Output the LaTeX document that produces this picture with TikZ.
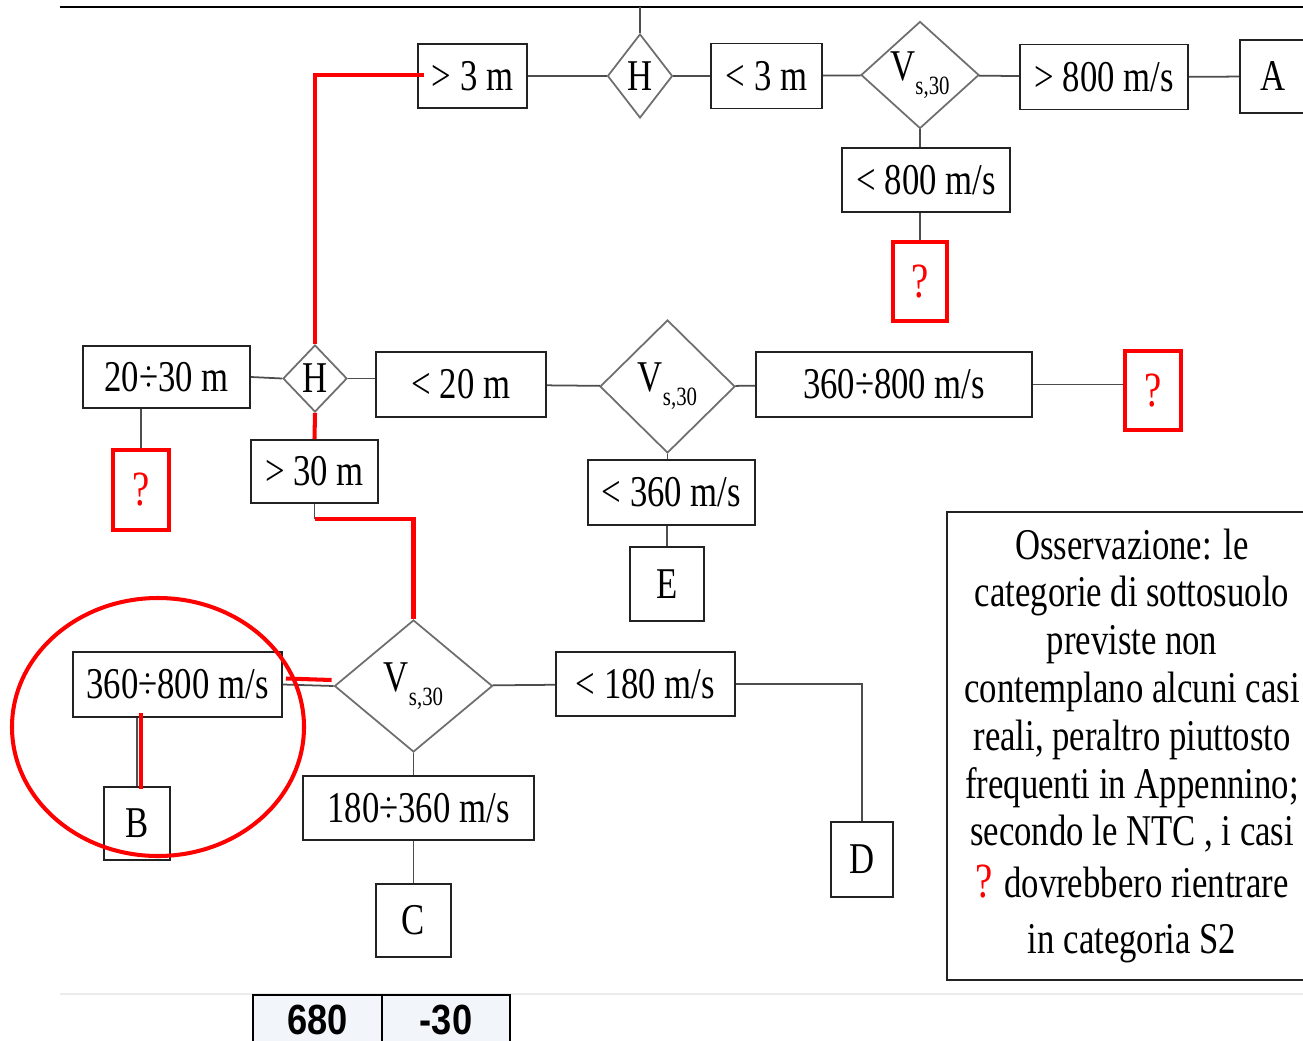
\documentclass[tikz,border=0pt]{standalone}
\usepackage{fontspec}
\setmainfont{Liberation Serif}[FakeStretch=0.79]
\newfontfamily\tabfont{Liberation Sans}[FakeStretch=0.86]
\usepackage{tikz}
\usetikzlibrary{shapes.geometric,calc}
\usepackage{xcolor}
\definecolor{ink}{HTML}{222222}
\definecolor{wire}{HTML}{4D4D4D}
\definecolor{rhomb}{HTML}{6E6E6E}
\definecolor{alert}{HTML}{FF0000}
\definecolor{cell}{HTML}{F2F6FA}
\definecolor{rule}{HTML}{EBEBEB}
\tikzset{
  bnode/.style={rectangle,draw=ink,fill=white,line width=0.55pt,inner sep=0pt,
    font=\fontsize{12.5}{15}\selectfont},
  dnode/.style={diamond,draw=rhomb,fill=white,line width=0.5pt,inner sep=0pt,
    font=\fontsize{12.5}{15}\selectfont},
  qnode/.style={rectangle,draw=alert,fill=white,text=alert,line width=1.2pt,inner sep=0pt,
    minimum width=0.54cm,minimum height=0.79cm,font=\fontsize{14}{16}\selectfont},
  tnode/.style={rectangle,draw=black,fill=cell,line width=0.7pt,inner sep=0pt,
    minimum width=1.28cm,minimum height=0.5cm,font=\tabfont\bfseries\fontsize{12}{14}\selectfont},
  conn/.style={draw=wire,line width=0.5pt},
  redline/.style={draw=alert,line width=1.15pt},
}
\newcommand{\vsthirty}{V\raisebox{-0.7ex}{\fontsize{7.5}{8}\selectfont s,30}}

\begin{document}
\begin{tikzpicture}
  \useasboundingbox (0,0) rectangle (13.03,-10.40);
  \coordinate (tl) at (0.60,-0.07); \coordinate (tr) at (13.03,-0.07);
  \draw[draw=rule,line width=0.4pt] (0.60,-9.94) -- (13.03,-9.94);
  % top row
  \node[dnode,minimum width=0.65cm,minimum height=0.84cm] (h1) at (6.40,-0.76) {H};
  \node[bnode,minimum width=1.09cm,minimum height=0.64cm] (gt3) at (4.725,-0.76) {> 3 m};
  \node[bnode,minimum width=1.11cm,minimum height=0.65cm] (lt3) at (7.665,-0.76) {< 3 m};
  \node[dnode,minimum width=1.18cm,minimum height=1.07cm] (v1) at (9.20,-0.75) {\vsthirty};
  \node[bnode,minimum width=1.68cm,minimum height=0.65cm] (gt800) at (11.04,-0.77) {> 800 m/s};
  \node[bnode,minimum width=0.66cm,minimum height=0.73cm] (na) at (12.73,-0.765) {A};
  \node[bnode,minimum width=1.68cm,minimum height=0.64cm] (lt800) at (9.26,-1.80) {< 800 m/s};
  \node[qnode] (q1) at (9.20,-2.815) {?};
  % middle row
  \node[bnode,minimum width=1.67cm,minimum height=0.62cm] (r2030) at (1.665,-3.77) {20÷30 m};
  \node[dnode,minimum width=0.64cm,minimum height=0.67cm] (h2) at (3.15,-3.785) {H};
  \node[bnode,minimum width=1.70cm,minimum height=0.65cm] (lt20) at (4.61,-3.845) {< 20 m};
  \node[dnode,minimum width=1.35cm,minimum height=1.33cm] (v2) at (6.675,-3.865) {\vsthirty};
  \node[bnode,minimum width=2.76cm,minimum height=0.65cm] (r360800a) at (8.94,-3.845) {360÷800 m/s};
  \node[qnode,minimum width=0.56cm] (q2) at (11.53,-3.905) {?};
  \node[qnode,minimum width=0.56cm,minimum height=0.80cm] (q3) at (1.41,-4.90) {?};
  \node[bnode,minimum width=1.27cm,minimum height=0.63cm] (gt30) at (3.145,-4.715) {> 30 m};
  \node[bnode,minimum width=1.67cm,minimum height=0.65cm] (lt360) at (6.715,-4.925) {< 360 m/s};
  \node[bnode,minimum width=0.74cm,minimum height=0.74cm] (ne) at (6.67,-5.84) {E};
  % bottom row
  \node[dnode,minimum width=1.58cm,minimum height=1.32cm] (v3) at (4.135,-6.86) {\vsthirty};
  \node[bnode,minimum width=2.09cm,minimum height=0.65cm] (r360800b) at (1.775,-6.845) {360÷800 m/s};
  \node[bnode,minimum width=0.66cm,minimum height=0.73cm] (nb) at (1.37,-8.235) {B};
  \node[bnode,minimum width=1.79cm,minimum height=0.64cm] (lt180) at (6.455,-6.84) {< 180 m/s};
  \node[bnode,minimum width=0.62cm,minimum height=0.75cm] (nd) at (8.62,-8.595) {D};
  \node[bnode,minimum width=2.31cm,minimum height=0.64cm] (r180360) at (4.185,-8.08) {180÷360 m/s};
  \node[bnode,minimum width=0.75cm,minimum height=0.73cm] (nc) at (4.135,-9.205) {C};
  % note and table
  \node[bnode,minimum width=3.70cm,minimum height=4.68cm,align=center,
    font=\fontsize{12.5}{13.6}\selectfont] (note) at (11.32,-7.46)
    {Osservazione: le\\ categorie di sottosuolo\\ previste non\\ contemplano alcuni casi\\
     reali, peraltro piuttosto\\ frequenti in Appennino;\\ secondo le NTC , i casi\\[1pt]
     {\color{alert}\fontsize{14}{16}\selectfont ?} dovrebbero rientrare\\[2.5pt] in categoria S2};
  \node[tnode,minimum width=1.29cm] (c680) at (3.175,-10.20) {680};
  \node[tnode] (c30) at (4.46,-10.20) {-30};
  % connectors
  \draw[conn,draw=black] (tl) -- (tr);
  \draw[conn] (h1.north) -- (h1.north |- tl);
  \draw[conn] (gt3) -- (h1);
  \draw[conn] (h1) -- (lt3);
  \draw[conn] (lt3) -- (v1);
  \draw[conn] (v1) -- (gt800);
  \draw[conn] (gt800) -- (na);
  \draw[conn] (v1.south) -- (v1.south |- lt800.north);
  \draw[conn] (lt800.south -| q1) -- (q1.north);
  \draw[conn] (r2030.east) -- (h2.west);
  \draw[conn] (h2.east) -- (h2.east -| lt20.west);
  \draw[conn] (lt20) -- (v2);
  \draw[conn] (v2) -- (r360800a);
  \draw[conn] (r360800a.east) -- (r360800a.east -| q2.west);
  \draw[conn] (r2030.south -| q3) -- (q3.north);
  \draw[conn] (v2.south) -- (v2.south |- lt360.north);
  \draw[conn] (lt360.south -| ne) -- (ne.north);
  \draw[conn] (r360800b.east) -- (v3.west);
  \draw[conn] (v3) -- (lt180);
  \draw[conn] (lt180.east) -| (nd.north);
  \draw[conn] (v3.south) -- (v3.south |- r180360.north);
  \draw[conn] (r180360.south -| nc) -- (nc.north);
  \coordinate (bt) at (r360800b.south -| nb);
  \draw[conn] (bt) -- (nb.north);
  \coordinate (k1) at ($(gt30.south)+(0,-0.15)$);
  \draw[conn] (gt30.south) -- (k1);
  % red path
  \draw[redline] ([xshift=0.07cm,yshift=0.01cm]gt3.west) -| (h2.north);
  \draw[redline] (h2.south) -- (gt30.north);
  \draw[redline] (k1) -| (v3.north);
  \draw[redline] ([xshift=0.03cm,yshift=0.06cm]r360800b.east) -- ([xshift=-0.02cm,yshift=0.06cm]v3.west);
  \draw[redline] ([xshift=0.04cm,yshift=0.05cm]bt) -- ([xshift=0.04cm,yshift=-0.03cm]nb.north);
  \draw[redline] (1.58,-7.27) ellipse [x radius=1.46cm, y radius=1.29cm];
\end{tikzpicture}
\end{document}
